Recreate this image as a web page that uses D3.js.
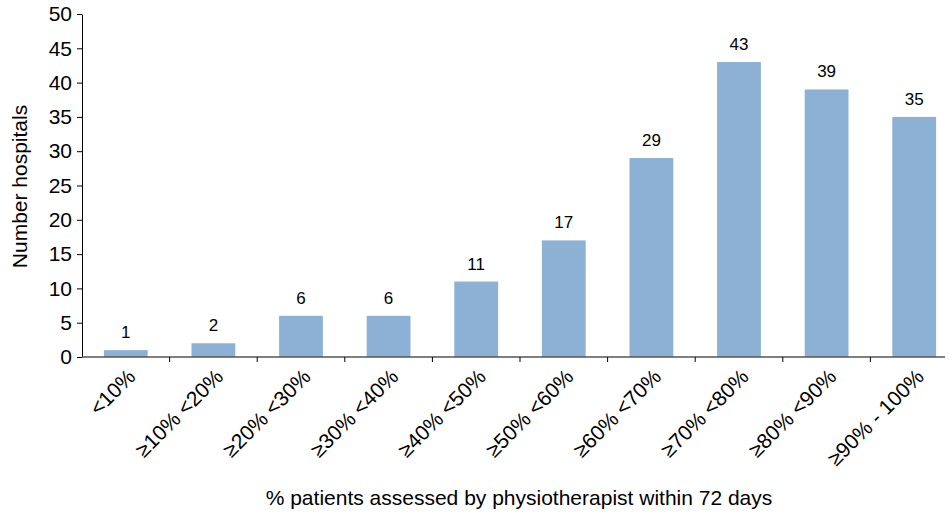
<!DOCTYPE html>
<html>
<head>
<meta charset="utf-8">
<script src="https://cdn.jsdelivr.net/npm/d3@7"></script>
<style>
  body { margin: 0; background: #fff; }
  text { font-family: "Liberation Sans", Arial, sans-serif; fill: #000; }
</style>
</head>
<body>
<div id="chart"></div>
<script>
// datos
const categories = ["<10%", "≥10% <20%", "≥20% <30%", "≥30% <40%", "≥40% <50%",
                    "≥50% <60%", "≥60% <70%", "≥70% <80%", "≥80% <90%", "≥90% - 100%"];
const hospitals = [1, 2, 6, 6, 11, 17, 29, 43, 39, 35];
const yTicks = [0, 5, 10, 15, 20, 25, 30, 35, 40, 45, 50];
const xTitle = "% patients assessed by physiotherapist within 72 days";
const yTitle = "Number hospitals";

const width = 949;
const height = 515;
const margin = {top: 14, right: -9, bottom: 158, left: 82};

const svg = d3.select("#chart").append("svg")
    .attr("width", width)
    .attr("height", height);

const x = d3.scaleBand()
    .domain(categories)
    .range([margin.left, width - margin.right])
    .paddingInner(0.5)
    .paddingOuter(0.25);
const y = d3.scaleLinear()
    .domain([0, 50])
    .range([height - margin.bottom, margin.top]);

// barras
svg.append("g").selectAll("rect").data(hospitals).enter().append("rect")
    .attr("x", (d, i) => x(categories[i]))
    .attr("y", d => y(d))
    .attr("width", x.bandwidth())
    .attr("height", d => y(0) - y(d))
    .attr("fill", "#8DB0D5");

// etiquetas de valor
svg.append("g").selectAll("text").data(hospitals).enter().append("text")
    .attr("x", (d, i) => x(categories[i]) + x.bandwidth() / 2)
    .attr("y", d => y(d) - 12)
    .attr("text-anchor", "middle")
    .style("font-size", "17px")
    .text(d => d);

// eje y
const yAxisGroup = svg.append("g")
    .attr("transform", `translate(${margin.left},0)`)
    .call(d3.axisLeft(y).tickValues(yTicks).tickSize(5).tickSizeOuter(0).tickPadding(5));
yAxisGroup.selectAll("text").style("font-size", "21px").style("font-family", "Liberation Sans, Arial, sans-serif");
yAxisGroup.selectAll("line, path").attr("stroke", "#000");

// eje x
const bounds = categories.map(c => x(c) - x.step() * x.paddingInner() / 2).slice(1);
const xAxisGroup = svg.append("g");
xAxisGroup.append("line")
    .attr("x1", margin.left).attr("x2", 945)
    .attr("y1", y(0)).attr("y2", y(0))
    .attr("stroke", "#555").attr("stroke-width", 1.3);
xAxisGroup.selectAll(".tick").data(bounds).enter().append("line")
    .attr("x1", d => d).attr("x2", d => d)
    .attr("y1", y(0)).attr("y2", y(0) + 5)
    .attr("stroke", "#000");
xAxisGroup.selectAll("text").data(categories).enter().append("text")
    .attr("transform", d => `translate(${x(d) + x.bandwidth() / 2 + 11},${y(0) + 21}) rotate(-45)`)
    .attr("text-anchor", "end")
    .style("font-size", "21px")
    .text(d => d);

// títulos
svg.append("text")
    .attr("x", 519).attr("y", 505)
    .attr("text-anchor", "middle")
    .style("font-size", "21px")
    .text(xTitle);
svg.append("text")
    .attr("transform", `translate(27,${y(25) + 1}) rotate(-90)`)
    .attr("text-anchor", "middle")
    .style("font-size", "21px")
    .text(yTitle);
</script>
</body>
</html>
